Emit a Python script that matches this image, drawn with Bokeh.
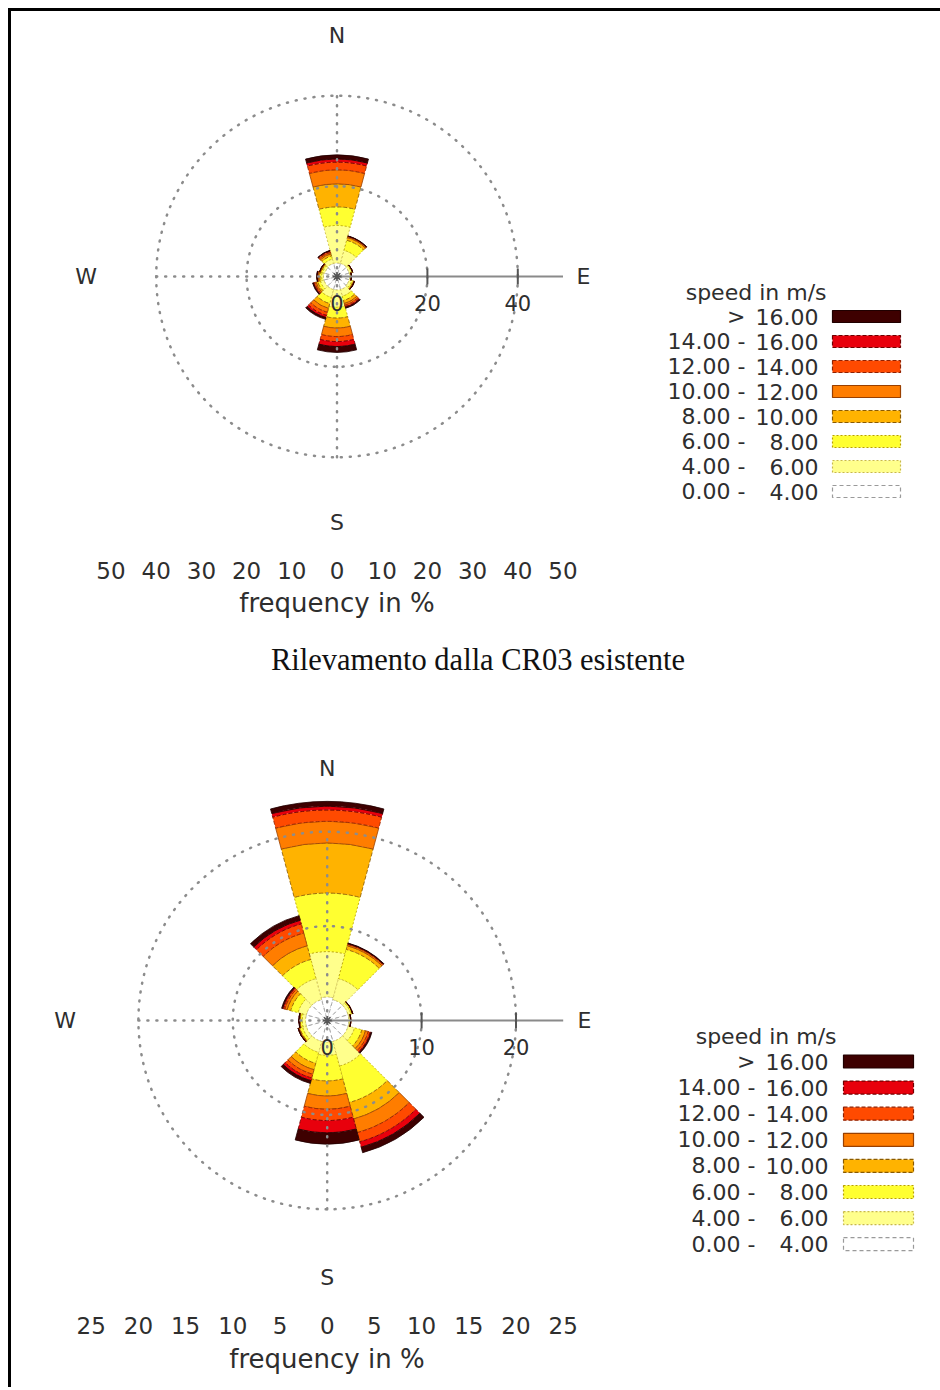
import numpy as np
from bokeh.plotting import figure
from bokeh.models import Range1d, FixedTicker
from bokeh.layouts import row, column
from bokeh.embed import file_html
from bokeh.resources import INLINE
from bokeh.core.properties import value

# ---------------- data ----------------
directions = [0, 30, 60, 90, 120, 150, 180, 210, 240, 270, 300, 330]
compass_labels = ["N", "E", "S", "W"]
compass_angles = [0, 90, 180, 270]
legend_title = "speed in m/s"
class_low = [">", "14.00 -", "12.00 -", "10.00 -", "8.00 -", "6.00 -", "4.00 -", "0.00 -"]
class_high = ["16.00", "16.00", "14.00", "12.00", "10.00", "8.00", "6.00", "4.00"]
caption = "Rilevamento dalla CR03 esistente"
axis_title = "frequency in %"

# frequencies (%) per speed class, one value per direction (top rose)
top_0_4 = [3.0, 3.0, 2.8, 2.8, 2.8, 3.0, 3.0, 3.0, 3.0, 3.0, 2.8, 3.0]
top_4_6 = [8.3, 3.0, 0.5, 0.3, 0.6, 1.5, 3.8, 1.8, 0.8, 0.4, 0.5, 1.0]
top_6_8 = [4.1, 2.3, 0.2, 0.1, 0.3, 1.0, 2.4, 1.4, 0.6, 0.4, 0.3, 0.7]
top_8_10 = [5.1, 0.6, 0.1, 0.0, 0.15, 0.7, 2.2, 1.1, 0.4, 0.3, 0.2, 0.5]
top_10_12 = [3.1, 0.2, 0.0, 0.0, 0.1, 0.4, 1.9, 0.9, 0.3, 0.2, 0.1, 0.3]
top_12_14 = [1.7, 0.1, 0.0, 0.0, 0.05, 0.3, 1.1, 0.7, 0.2, 0.1, 0.05, 0.25]
top_14_16 = [0.7, 0.05, 0.0, 0.0, 0.0, 0.2, 1.1, 0.5, 0.15, 0.05, 0.03, 0.15]
top_gt_16 = [0.9, 0.05, 0.0, 0.0, 0.0, 0.2, 1.3, 0.4, 0.15, 0.05, 0.02, 0.1]

# bottom rose
bot_0_4 = [2.5, 2.3, 2.3, 2.3, 2.3, 2.3, 2.3, 2.3, 2.3, 2.3, 2.3, 2.3]
bot_4_6 = [4.8, 2.3, 0.3, 0.15, 0.7, 2.7, 1.4, 1.2, 0.4, 0.35, 0.9, 2.3]
bot_6_8 = [6.2, 3.2, 0.15, 0.05, 0.8, 4.0, 2.7, 1.2, 0.3, 0.2, 0.8, 2.1]
bot_8_10 = [5.3, 0.4, 0.05, 0.0, 0.4, 1.8, 1.6, 0.7, 0.1, 0.08, 0.4, 1.5]
bot_10_12 = [2.3, 0.15, 0.0, 0.0, 0.3, 1.5, 1.4, 0.5, 0.05, 0.04, 0.25, 1.4]
bot_12_14 = [1.2, 0.05, 0.0, 0.0, 0.2, 1.0, 1.2, 0.4, 0.03, 0.02, 0.15, 1.0]
bot_14_16 = [0.4, 0.05, 0.0, 0.0, 0.1, 0.6, 1.3, 0.3, 0.01, 0.01, 0.1, 0.4]
bot_gt_16 = [0.5, 0.05, 0.0, 0.0, 0.1, 0.6, 1.2, 0.3, 0.01, 0.01, 0.1, 0.5]

top_rings = [20, 40]
top_freq_ticks = [-50, -40, -30, -20, -10, 0, 10, 20, 30, 40, 50]
bot_rings = [10, 20]
bot_freq_ticks = [-25, -20, -15, -10, -5, 0, 5, 10, 15, 20, 25]

# ---------------- styles / layout ----------------
fill_colors = ["#ffffff", "#ffff8c", "#ffff30", "#ffb300", "#ff7d00", "#ff4a00", "#e8000c", "#3e0000"]
line_colors = ["#9a9a9a", "#c8b84a", "#b8a000", "#8a5a00", "#9a4000", "#902000", "#700000", "#200000"]
line_dashes = ["4 3", "2 2", "2 2", "4 2", "solid", "4 2", "4 2", "solid"]
compass_r = [1.068, 1.09, 1.09, 1.11]
TXT = "#2e2e2e"
FONT = "DejaVu Sans"
GRID = "#8c8c8c"
SECTOR = 30.0
OFF = 11          # page offset of the content (8px margin + 3px frame line)
TOTAL_W = 929


def rose(classes, rings, freq_ticks, scale, cx, cy, height, mbb, std, astd):
    width = int(round(2 * cx))
    frame_h = height - mbb
    xr = Range1d(-cx / scale, (width - cx) / scale)
    yr = Range1d(-(frame_h - cy) / scale, cy / scale)
    p = figure(width=width, height=height, x_range=xr, y_range=yr,
               output_backend="svg", toolbar_location=None, y_axis_location=None,
               min_border_left=0, min_border_right=0, min_border_top=0,
               min_border_bottom=mbb, outline_line_color=None)
    p.grid.visible = False

    d = np.array(directions, dtype=float)
    start = np.radians(90 - d - SECTOR / 2)
    end = np.radians(90 - d + SECTOR / 2)
    cum = np.cumsum(np.array(classes, dtype=float), axis=0)
    inner = np.zeros(len(directions))
    for k in range(len(classes)):
        outer = cum[k]
        p.annular_wedge(x=0, y=0, inner_radius=inner, outer_radius=outer,
                        start_angle=start, end_angle=end,
                        fill_color=fill_colors[k], line_color=line_colors[k],
                        line_width=1, line_alpha=0.8, line_dash=line_dashes[k])
        inner = outer

    amax = max(freq_ticks)
    rmax = max(rings)
    # dotted grid drawn over the wedges
    p.circle(x=[0] * len(rings), y=[0] * len(rings), radius=rings, fill_color=None,
             line_color=GRID, line_width=2.5, line_dash="1 8", line_cap="round")
    p.segment(x0=[0, -rmax], y0=[-rmax, 0], x1=[0, 0], y1=[rmax, 0],
              line_color=GRID, line_width=2.5, line_dash="1 8", line_cap="round")
    # radial axis towards E
    p.segment(x0=[0], y0=[0], x1=[amax], y1=[0], line_color="#8a8a8a", line_width=2)
    p.scatter(x=rings, y=[0] * len(rings), marker="dash", angle=np.pi / 2, size=16,
              line_color="#555555", line_width=2)
    p.scatter(x=[0], y=[0], marker="asterisk", size=9, line_color="#555555", line_width=1.5)
    p.text(x=[0] + rings, y=[0] * (len(rings) + 1), text=[str(v) for v in [0] + rings],
           y_offset=26, text_align="center", text_baseline="middle",
           text_font=value(FONT), text_font_size="21px", text_color=TXT)
    # compass labels
    ca = np.radians(compass_angles)
    lr = np.array(compass_r) * amax
    p.text(x=lr * np.sin(ca), y=lr * np.cos(ca), text=compass_labels,
           text_align="center", text_baseline="middle",
           text_font=value(FONT), text_font_size="22px", text_color=TXT)

    # frequency axis
    ax = p.xaxis[0]
    ax.ticker = FixedTicker(ticks=freq_ticks)
    ax.major_label_overrides = {t: str(abs(t)) for t in freq_ticks}
    ax.axis_line_color = None
    ax.major_tick_line_color = None
    ax.minor_tick_line_color = None
    ax.major_tick_out = 0
    ax.major_tick_in = 0
    ax.major_label_standoff = std
    ax.major_label_text_font = FONT
    ax.major_label_text_font_size = "23px"
    ax.major_label_text_color = TXT
    ax.axis_label = axis_title
    ax.axis_label_standoff = astd
    ax.axis_label_text_font = FONT
    ax.axis_label_text_font_size = "26px"
    ax.axis_label_text_font_style = "normal"
    ax.axis_label_text_color = TXT
    return p


def legend(x0, height, mbb, title_y, row0, dy, right, low_right, sw_x0, sw_w, sw_h):
    # x0: page x where this legend panel starts; other x values are page positions
    width = TOTAL_W - (x0 - OFF)
    frame_h = height - mbb
    p = figure(width=width, height=height, x_range=Range1d(x0, x0 + width),
               y_range=Range1d(frame_h, 0),
               output_backend="svg", toolbar_location=None, x_axis_location=None,
               y_axis_location=None, min_border_left=0, min_border_right=0, min_border_top=0,
               min_border_bottom=mbb, outline_line_color=None)
    p.grid.visible = False
    n = len(class_low)
    ys = [row0 + dy * i for i in range(n)]
    p.text(x=[right + 8], y=[title_y], text=[legend_title], text_align="right",
           text_baseline="middle", text_font=value(FONT), text_font_size="22px", text_color=TXT)
    p.text(x=[low_right] * n, y=ys, text=class_low, text_align="right",
           text_baseline="middle", text_font=value(FONT), text_font_size="22px", text_color=TXT)
    p.text(x=[right] * n, y=ys, text=class_high, text_align="right",
           text_baseline="middle", text_font=value(FONT), text_font_size="22px", text_color=TXT)
    for i in range(n):
        k = n - 1 - i
        p.rect(x=[sw_x0 + sw_w / 2], y=[ys[i]], width=sw_w, height=sw_h,
               fill_color=fill_colors[k], line_color=line_colors[k],
               line_width=1.2, line_dash=line_dashes[k])
    return p


top_classes = [top_0_4, top_4_6, top_6_8, top_8_10, top_10_12, top_12_14, top_14_16, top_gt_16]
bot_classes = [bot_0_4, bot_4_6, bot_6_8, bot_8_10, bot_10_12, bot_12_14, bot_14_16, bot_gt_16]

TOP_H, CAP_H, BOT_H = 629, 62, 685

p_top = rose(top_classes, top_rings, top_freq_ticks, 4.52, 336.5 - OFF, 276 - OFF, TOP_H, 84, 5, 6)
l_top = legend(OFF + p_top.width, TOP_H, 84, 292 - OFF, 316 - OFF, 25, 818, 745, 832, 68, 12)

cap = figure(width=TOTAL_W, height=CAP_H, x_range=Range1d(OFF, OFF + TOTAL_W),
             y_range=Range1d(CAP_H, 0),
             output_backend="svg", toolbar_location=None, x_axis_location=None,
             y_axis_location=None, min_border=0, outline_line_color=None)
cap.grid.visible = False
cap.text(x=[477.5], y=[19], text=[caption], text_align="center", text_baseline="middle",
         text_font=value("Liberation Serif"), text_font_size="30.5px", text_color="#111111")

bot_top = OFF + TOP_H + CAP_H
p_bot = rose(bot_classes, bot_rings, bot_freq_ticks, 9.44, 326.7 - OFF, 1020 - bot_top, BOT_H, 76, 5, 7)
l_bot = legend(OFF + p_bot.width, BOT_H, 76, 1036 - bot_top, 1061 - bot_top, 26.1, 828, 755, 843, 70, 13)

layout = column(row(p_top, l_top), cap, row(p_bot, l_bot), margin=(8, 0, 0, 8),
                styles={"border-top": "3px solid black", "border-left": "3px solid black"})

open("out.html", "w").write(file_html(layout, INLINE))
